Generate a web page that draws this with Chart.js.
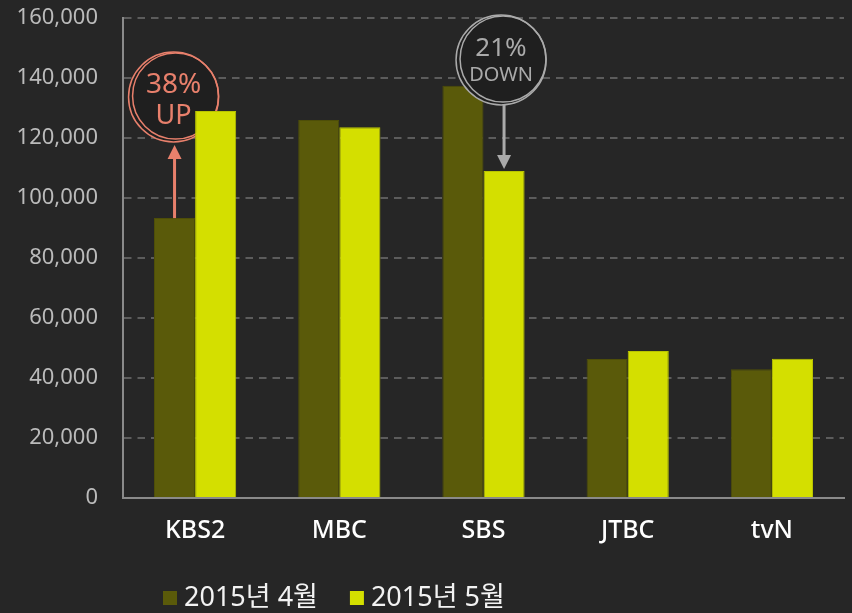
<!DOCTYPE html>
<html>
<head>
<meta charset="utf-8">
<script src="https://cdn.jsdelivr.net/npm/chart.js@4"></script>
<style>
  html, body { margin: 0; padding: 0; background: #262626; }
  #wrap { width: 852px; height: 613px; }
</style>
</head>
<body>
<div id="wrap"><canvas id="myChart" width="852" height="613"></canvas></div>
<script>
const channels = ["KBS2", "MBC", "SBS", "JTBC", "tvN"];
const april = [93300, 126000, 137400, 46300, 42900];
const may = [129000, 123600, 109000, 49000, 46400];
const yTicks = [0, 20000, 40000, 60000, 80000, 100000, 120000, 140000, 160000];

const FONT = "'Noto Sans', 'Noto Sans CJK KR', sans-serif";
const UP_COLOR = "#e8806c";
const DOWN_COLOR = "#aaaaaa";

function ring(ctx, cx, cy, r, color) {
    ctx.save();
    ctx.strokeStyle = color;
    ctx.lineWidth = 1.5;
    ctx.fillStyle = "#1f1f1f";
    ctx.beginPath();
    ctx.arc(cx, cy, r, 0, Math.PI * 2);
    ctx.fill();
    ctx.stroke();
    ctx.beginPath();
    ctx.arc(cx + 2, cy - 1, r - 2, 0, Math.PI * 2);
    ctx.stroke();
    ctx.restore();
}

function arrow(ctx, x, y0, y1, color) {
    const dir = y1 < y0 ? -1 : 1;
    ctx.save();
    ctx.strokeStyle = color;
    ctx.fillStyle = color;
    ctx.lineWidth = 3;
    ctx.beginPath();
    ctx.moveTo(x, y0);
    ctx.lineTo(x, y1 - dir * 12);
    ctx.stroke();
    ctx.beginPath();
    ctx.moveTo(x, y1);
    ctx.lineTo(x - 7, y1 - dir * 14);
    ctx.lineTo(x + 7, y1 - dir * 14);
    ctx.closePath();
    ctx.fill();
    ctx.restore();
}

function label(ctx, lines, cx, cy, color, sizes) {
    ctx.save();
    ctx.fillStyle = color;
    ctx.textAlign = "center";
    ctx.textBaseline = "middle";
    lines.forEach((t, i) => {
        ctx.font = sizes[i].size + "px " + FONT;
        ctx.fillText(t, cx, cy + sizes[i].dy);
    });
    ctx.restore();
}

// circled percentage notes with arrows, placed from the bar elements
const notes = {
    id: "notes",
    beforeDatasetsDraw(chart) {
        // the "UP" ring sits behind the KBS2 bars
        const a = chart.getDatasetMeta(0).data[0];
        ring(chart.ctx, a.x - 1, 97, 45, UP_COLOR);
    },
    afterDatasetsDraw(chart) {
        const ctx = chart.ctx;
        const a = chart.getDatasetMeta(0).data[0];
        const m = chart.getDatasetMeta(1).data[2];

        // KBS2: up
        arrow(ctx, a.x, a.y, 97 + 45 + 3, UP_COLOR);
        label(ctx, ["38%", "UP"], a.x - 1, 97, UP_COLOR, [{ size: 28, dy: -12 }, { size: 27, dy: 19 }]);

        // SBS: down
        const cx2 = m.x - 3, cy2 = 60, r2 = 45;
        arrow(ctx, m.x, cy2 + r2, m.y - 2, DOWN_COLOR);
        ring(ctx, cx2, cy2, r2, DOWN_COLOR);
        label(ctx, ["21%", "DOWN"], cx2, cy2, DOWN_COLOR, [{ size: 26, dy: -11 }, { size: 20, dy: 15 }]);
    }
};

// legend drawn by hand so it can sit left of centre like the original
const bottomLegend = {
    id: "bottomLegend",
    afterDraw(chart) {
        const ctx = chart.ctx;
        let x = 163;
        const y = 598;
        ctx.save();
        ctx.font = "27px " + FONT;
        ctx.textBaseline = "middle";
        chart.data.datasets.forEach(ds => {
            ctx.fillStyle = ds.backgroundColor;
            ctx.fillRect(x, y - 7, 14, 14);
            ctx.fillStyle = "#f2f2f2";
            ctx.fillText(ds.label, x + 21, y);
            x += 21 + ctx.measureText(ds.label).width + 32;
        });
        ctx.restore();
    }
};

const data = {
    labels: channels,
    datasets: [
        {
            label: "2015년 4월",
            data: april,
            backgroundColor: "#5a5a0a",
            borderColor: "#4e4e08",
            borderWidth: 1,
        },
        {
            label: "2015년 5월",
            data: may,
            backgroundColor: "#d4df00",
            borderColor: "#b9c400",
            borderWidth: 1,
        },
    ],
};

const ctx = document.getElementById("myChart").getContext("2d");
const myChart = new Chart(ctx, {
    type: "bar",
    data: data,
    plugins: [
        {
            id: "bg",
            beforeDraw(chart) {
                const c = chart.ctx;
                c.save();
                c.fillStyle = "#262626";
                c.fillRect(0, 0, chart.width, chart.height);
                c.restore();
            },
        },
        notes,
        bottomLegend,
    ],
    options: {
        responsive: false,
        animation: false,
        layout: { padding: { top: 18, right: 8, left: 0, bottom: 49 } },
        datasets: {
            bar: { categoryPercentage: 0.57, barPercentage: 1.0 },
        },
        plugins: {
            tooltip: { enabled: false },
            legend: { display: false },
        },
        scales: {
            x: {
                grid: { display: false, drawTicks: false },
                border: { color: "#8a8a8a", width: 2 },
                ticks: {
                    color: "#ffffff",
                    padding: 18,
                    font: { family: FONT, size: 25, weight: "500" },
                },
            },
            y: {
                min: 0,
                max: 160000,
                afterBuildTicks(scale) {
                    scale.ticks = yTicks.map(v => ({ value: v }));
                },
                afterFit(scale) {
                    // tick padding is only meant to push labels sideways
                    scale.paddingTop = 0;
                    scale.paddingBottom = 0;
                    scale.width = 123;
                },
                grid: {
                    color: "#5c5c5c",
                    lineWidth: 2,
                    drawTicks: false,
                },
                border: { color: "#8a8a8a", width: 2, dash: [7.5, 6] },
                ticks: {
                    color: "#bbbbbb",
                    padding: 25,
                    font: { family: FONT, size: 22 },
                    callback: v => v.toLocaleString("en-US"),
                },
            },
        },
    },
});
</script>
</body>
</html>
